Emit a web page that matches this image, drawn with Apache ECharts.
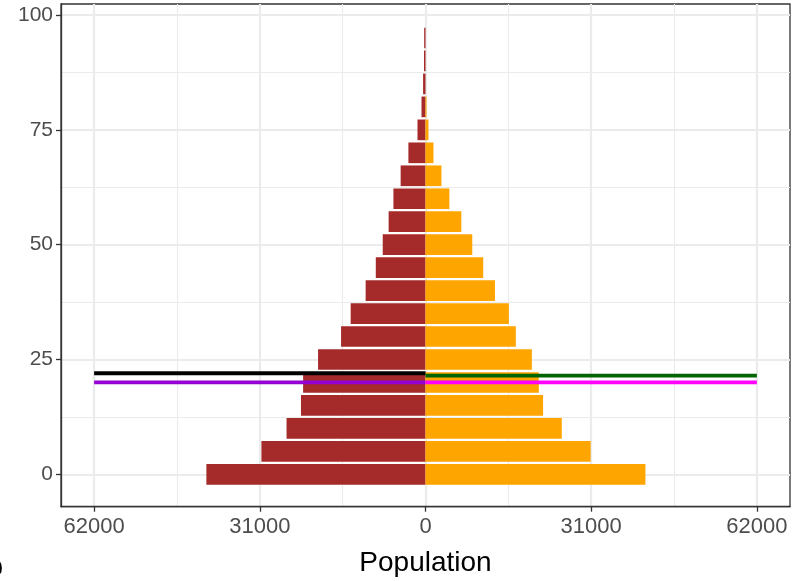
<!DOCTYPE html>
<html><head><meta charset="utf-8">
<script src="https://cdn.jsdelivr.net/npm/echarts@6/dist/echarts.min.js"></script>
<style>html,body{margin:0;padding:0;background:#fff}#c{width:792px;height:581px}</style>
</head><body><div id="c"></div><script>
// ---- data ----
const ages = [0,5,10,15,20,25,30,35,40,45,50,55,60,65,70,75,80,85,90,95];
const leftPop  = [41000,30700,26000,23300,22900,20100,15800,14000,11200,9300,8000,6900,6000,4650,3200,1500,750,450,280,250];
const rightPop = [41150,30900,25500,22000,21200,19900,16900,15600,13000,10800,8750,6700,4470,2980,1490,560,190,0,0,0];
const xTicks = [-62000,-31000,0,31000,62000];
const xMinor = [-46500,-15500,15500,46500];
const yTicks = [0,25,50,75,100];
const yMinor = [12.5,37.5,62.5,87.5];
const refLines = [
  {name:'black',  y:22,   x0:-62000, x1:0,     color:'#000000'},
  {name:'green',  y:21.5, x0:0,      x1:62000, color:'#006400'},
  {name:'purple', y:20,   x0:-62000, x1:0,     color:'#9400D3'},
  {name:'magenta',y:20,   x0:0,      x1:62000, color:'#FF00FF'}
];
const barH = 4.5;

const XMIN=-68200, XMAX=68200, YMIN=-7.05, YMAX=102.4;
const font = '"Liberation Sans", Arial, sans-serif';

function barSeries(vals, sign, color){
  return {
    type:'custom', xAxisIndex:0, yAxisIndex:0, z:3,
    data: ages.map((a,i)=>[sign*vals[i], a]),
    encode:{x:0,y:1},
    renderItem(params, api){
      const v = api.value(0), a = api.value(1);
      const p1 = api.coord([0, a + barH/2]);
      const p2 = api.coord([v, a - barH/2]);
      return {type:'rect', shape:{x:Math.min(p1[0],p2[0]), y:p1[1], width:Math.abs(p2[0]-p1[0]), height:p2[1]-p1[1]}, style:{fill:color}};
    }
  };
}

const series = [
  barSeries(leftPop, -1, '#A52A2A'),
  barSeries(rightPop, 1, '#FFA500')
];
refLines.forEach(l=>series.push({
  type:'line', xAxisIndex:0, yAxisIndex:0, z:5, symbol:'none', silent:true,
  data:[[l.x0,l.y],[l.x1,l.y]],
  lineStyle:{color:l.color, width:3.8}
}));

const axisLineStyle = {show:true, onZero:false, lineStyle:{color:'#333333', width:1.3}};

const chart = echarts.init(document.getElementById('c'), null, {renderer:'canvas'});
chart.setOption({
  animation:false,
  backgroundColor:'#ffffff',
  grid:{left:61, right:2, top:4, bottom:74.3, show:true, borderColor:'#333333', borderWidth:1.3, backgroundColor:'transparent', containLabel:false, outerBoundsMode:'none'},
  xAxis:[
    {type:'value', min:XMIN, max:XMAX, position:'bottom',
     name:'Population', nameLocation:'middle', nameGap:43,
     nameTextStyle:{fontFamily:font, fontSize:28, color:'#000'},
     axisLine:axisLineStyle,
     axisTick:{show:true, inside:false, length:5, customValues:xTicks, lineStyle:{color:'#333', width:1.3}},
     axisLabel:{customValues:xTicks, margin:9, fontFamily:font, fontSize:22, color:'#4D4D4D', formatter:v=>String(Math.abs(v))},
     splitLine:{show:true, lineStyle:{color:'#EBEBEB', width:2.2}}},
    {type:'value', min:XMIN, max:XMAX, show:true, position:'bottom',
     axisLine:{show:false, onZero:false}, axisTick:{show:false, customValues:xMinor}, axisLabel:{show:false, customValues:xMinor},
     splitLine:{show:true, lineStyle:{color:'#EBEBEB', width:1.1}}}
  ],
  yAxis:[
    {type:'value', min:YMIN, max:YMAX, position:'left',
     axisLine:axisLineStyle,
     axisTick:{show:true, inside:false, length:5, customValues:yTicks, lineStyle:{color:'#333', width:1.3}},
     axisLabel:{customValues:yTicks, margin:8, fontFamily:font, fontSize:21, color:'#4D4D4D'},
     splitLine:{show:true, lineStyle:{color:'#EBEBEB', width:2.2}}},
    {type:'value', min:YMIN, max:YMAX, show:true, position:'left',
     axisLine:{show:false, onZero:false}, axisTick:{show:false, customValues:yMinor}, axisLabel:{show:false, customValues:yMinor},
     splitLine:{show:true, lineStyle:{color:'#EBEBEB', width:1.1}}}
  ],
  graphic:[
    {type:'text', left:-13, top:553, style:{text:'o', font:'29px "Liberation Sans", Arial, sans-serif', fill:'#000'}}
  ],
  series:series
});
</script></body></html>
